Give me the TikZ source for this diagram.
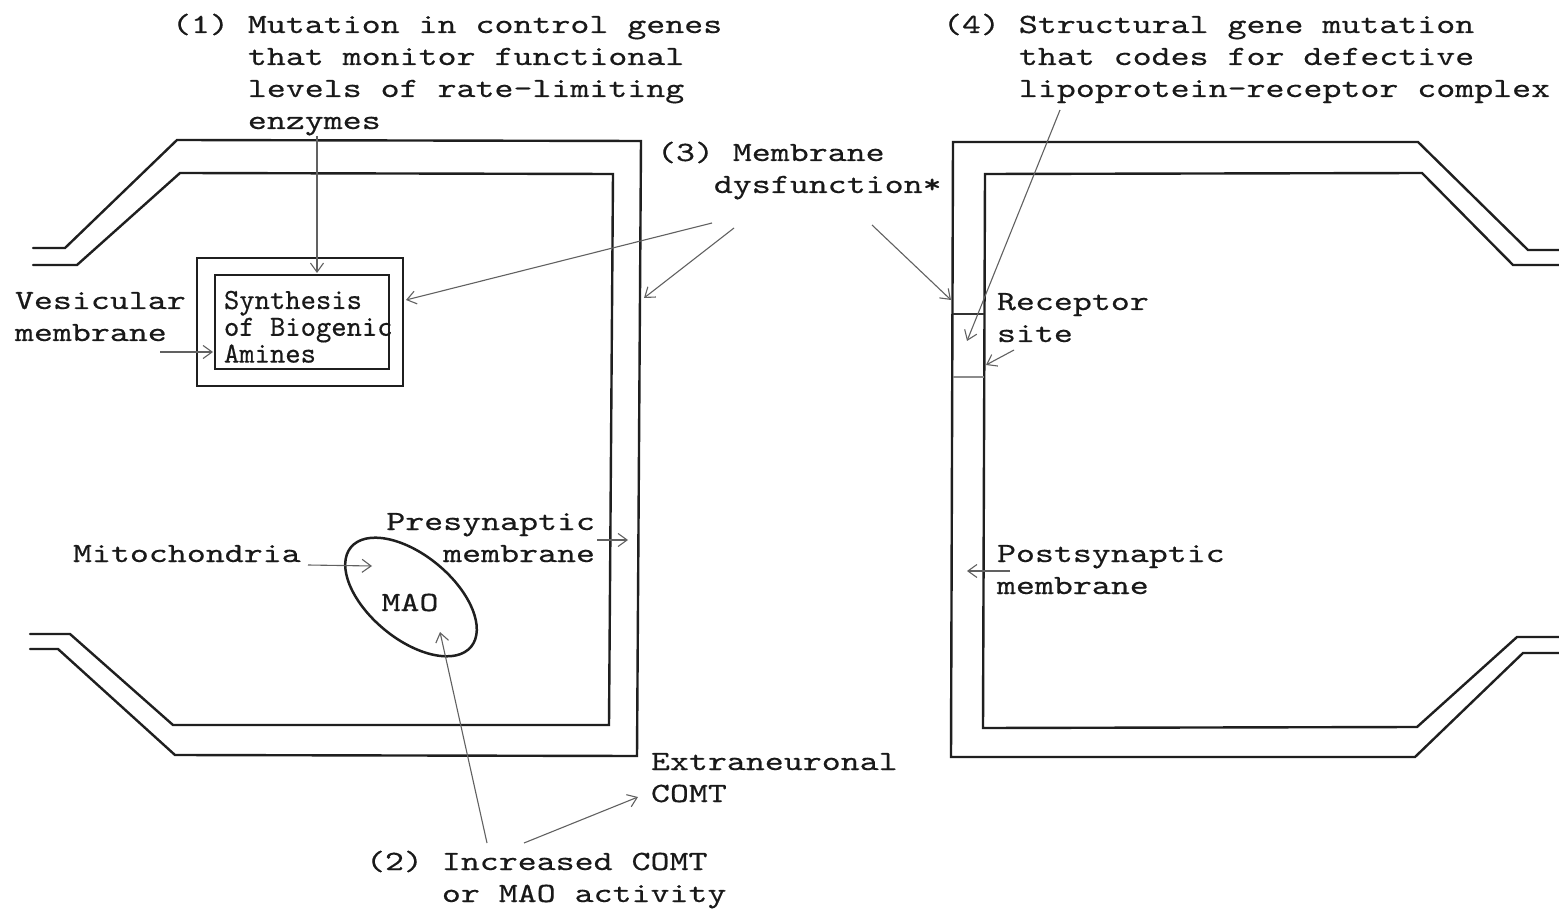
\documentclass[tikz,border=0pt]{standalone}
\usepackage{fontspec}
\setmonofont{lmmono10-regular.otf}[FakeStretch=1.3,FakeBold=0.4]
\newfontfamily\synthtt{lmmono10-regular.otf}[FakeBold=0.4]
\usetikzlibrary{arrows.meta,shapes.geometric}
% stacked lines, first baseline is the node's baseline
\newcommand\txtlines[2][l]{\begin{tabular}[t]{@{}#1@{}}#2\end{tabular}}
\begin{document}
\begin{tikzpicture}[x=0.5pt,y=-0.5pt,
  wall/.style={line width=1.2pt, line join=miter, line cap=round, black!88},
  box/.style={line width=1.1pt, black!88},
  ptr/.style={line width=0.55pt, black!62, -{Straight Barb[length=4.5pt,width=6.5pt]}},
  lbl/.style={inner sep=0pt, outer sep=0pt, anchor=base west, text=black!90,
    font=\ttfamily\fontsize{13.9}{16}\selectfont},
  lblsmall/.style={lbl, font=\synthtt\fontsize{14.6}{13.4}\selectfont}]
\useasboundingbox (0,0) rectangle (1559,909);
\fill[white] (0,0) rectangle (1559,909);

% presynaptic terminal (left)
\draw[wall] (33,248) -- (65,248) -- (177,140) -- (641,141) -- (637,756)
  -- (175,755) -- (58,649) -- (30,649);
\draw[wall] (33,265) -- (77,265) -- (180,173) -- (613,174) -- (609,725)
  -- (173,725) -- (70,634) -- (30,634);

% postsynaptic cell (right)
\draw[wall] (1559,250) -- (1528,250) -- (1418,142) -- (953,142) -- (951,757)
  -- (1415,757) -- (1523,653) -- (1559,653);
\draw[wall] (1559,265) -- (1513,265) -- (1422,173) -- (985,174) -- (983,728)
  -- (1417,727) -- (1517,637) -- (1559,637);

% receptor site markers in the postsynaptic membrane
\draw[line width=0.6pt, black!80] (953,314) -- (984,314);
\draw[line width=1pt, black!45] (953,377) -- (984,377);

% vesicle with synthesis compartment
\node[draw, box, minimum width=103pt, minimum height=64pt, inner sep=0pt] (vesicle) at (300,322) {};
\node[draw, box, minimum width=87pt, minimum height=47pt, inner sep=0pt] (synthbox) at (302,322) {};
\node[lblsmall] (synth) at (224,309)
  {\txtlines{Synthesis\\of Biogenic\\Amines}};

% mitochondrion
\node[draw, ellipse, line width=1.25pt, black!88, minimum width=78pt, minimum height=42pt,
  inner sep=0pt, rotate=-39.6] (mito) at (411,597) {};
\node[lbl, anchor=base] (mao) at (410,611) {MAO};

% labels
\node[lbl] (t1) at (172,33) {\txtlines{(1) Mutation in control genes\\
  \hphantom{(1) }that monitor functional\\
  \hphantom{(1) }levels of rate-limiting\\
  \hphantom{(1) }enzymes}};
\node[lbl] (t3) at (657,161) {\txtlines{(3) Membrane\\\hphantom{(3)}dysfunction*}};
\node[lbl] (t4) at (943,33) {\txtlines{(4) Structural gene mutation\\
  \hphantom{(4) }that codes for defective\\
  \hphantom{(4) }lipoprotein-receptor complex}};
\node[lbl] (ves) at (15,309) {\txtlines{Vesicular\\membrane}};
\node[lbl] (rec) at (997,310) {\txtlines{Receptor\\site}};
\node[lbl, anchor=base east] (pre) at (595,530) {\txtlines[r]{Presynaptic\\membrane}};
\node[lbl] (mit) at (73,562) {Mitochondria};
\node[lbl] (post) at (997,562) {\txtlines{Postsynaptic\\membrane}};
\node[lbl] (comt) at (651,770) {\txtlines{Extraneuronal\\COMT}};
\node[lbl] (t2) at (366,870) {\txtlines{(2) Increased COMT\\
  \hphantom{(2) }or MAO activity}};

% connector end points
\coordinate (a1s) at (317,136);   \coordinate (a1e) at (317,273);
\coordinate (d1s) at (712,223);   \coordinate (d1e) at (406,300);
\coordinate (d2s) at (734,228);   \coordinate (d2e) at (644,298);
\coordinate (d3s) at (872,225);   \coordinate (d3e) at (951,300);
\coordinate (r4s) at (1060,110);  \coordinate (r4e) at (967,341);
\coordinate (rss) at (1014,350);  \coordinate (rse) at (986,365);
\coordinate (vms) at (160,352);   \coordinate (vme) at (213,352);
\coordinate (mis) at (308,565);   \coordinate (mie) at (372,566);
\coordinate (prs) at (597,540);   \coordinate (pre) at (628,540);
\coordinate (pos) at (1010,571);  \coordinate (poe) at (967,571);
\coordinate (c1s) at (487,843);   \coordinate (c1e) at (440,632);
\coordinate (c2s) at (524,843);   \coordinate (c2e) at (638,797);

% connectors
\draw[ptr] (a1s) -- (a1e);
\draw[ptr] (d1s) -- (d1e);
\draw[ptr] (d2s) -- (d2e);
\draw[ptr] (d3s) -- (d3e);
\draw[ptr] (r4s) -- (r4e);
\draw[ptr] (rss) -- (rse);
\draw[ptr] (vms) -- (vme);
\draw[ptr] (mis) -- (mie);
\draw[ptr] (prs) -- (pre);
\draw[ptr] (pos) -- (poe);
\draw[ptr] (c1s) -- (c1e);
\draw[ptr] (c2s) -- (c2e);
\end{tikzpicture}
\end{document}
